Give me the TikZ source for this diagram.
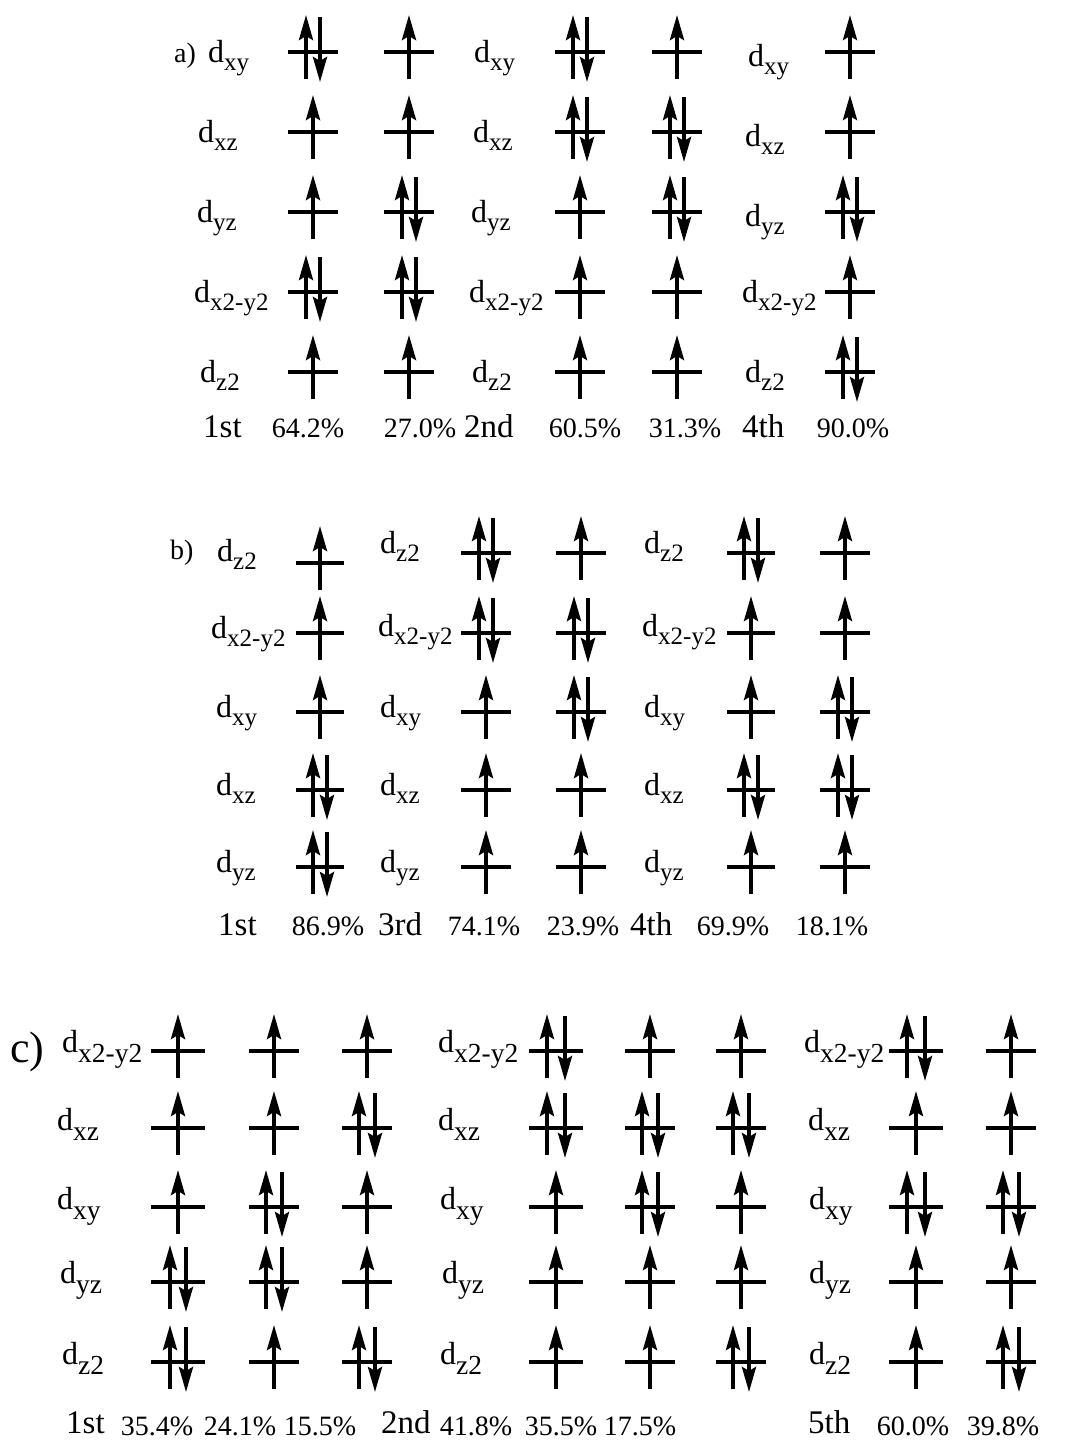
\documentclass[tikz,border=0pt]{standalone}
\usepackage{fontspec}
\setmainfont{Liberation Serif}
\usetikzlibrary{arrows.meta}
\tikzset{
 lvl/.style={line width=4pt},
 spin/.style={line width=3.8pt,-{Stealth[length=25pt,width=14pt,inset=4pt]}},
 lab/.style={anchor=base west, inner sep=0pt, font=\fontsize{32}{32}\selectfont},
 ord/.style={anchor=base west, inner sep=0pt, font=\fontsize{33}{33}\selectfont},
 pct/.style={anchor=base, inner sep=0pt, font=\fontsize{28}{28}\selectfont},
}
\newcommand{\OrbU}[4]{\draw[lvl] (#1-#3,#2) -- (#1+#3,#2); \draw[spin] (#1,#2+27) -- (#1,#2-37);}
\newcommand{\OrbP}[4]{\draw[lvl] (#1-#3,#2) -- (#1+#3,#2); \draw[spin] (#1-#4,#2+27) -- (#1-#4,#2-37); \draw[spin] (#1+#4,#2-35) -- (#1+#4,#2+30);}
\newcommand{\OrbCol}[4]{\foreach \yy/\kind in {#4}{\csname Orb\kind\endcsname{#1}{\yy}{#2}{#3}}}
\newcommand{\DA}[1]{d\raisebox{-8pt}{\fontsize{25}{25}\selectfont #1}}
\newcommand{\DC}[1]{d\raisebox{-10pt}{\fontsize{27.5}{27.5}\selectfont #1}}
\begin{document}
\begin{tikzpicture}[x=1pt,y=-1pt]
\useasboundingbox[fill=white] (0,0) rectangle (1075,1443);
% ---------------- panel a ----------------
\OrbCol{313}{25}{7}{52/P,132/U,212/U,292/P,372/U}
\OrbCol{409}{25}{7}{52/U,132/U,212/P,292/P,372/U}
\OrbCol{580}{25}{7}{52/P,132/P,212/U,292/U,372/U}
\OrbCol{677}{25}{7}{52/U,132/P,212/P,292/U,372/U}
\OrbCol{850}{25}{7}{52/U,132/U,212/P,292/U,372/P}
\node[lab,font=\fontsize{28}{28}\selectfont] (la) at (174,62) {a)};
\node[lab] (a1) at (208,62) {\DA{xy}};
\node[lab] (a2) at (198,142) {\DA{xz}};
\node[lab] (a3) at (197,222) {\DA{yz}};
\node[lab] (a4) at (194,302) {\DA{x2-y2}};
\node[lab] (a5) at (200,382) {\DA{z2}};
\node[lab] (a6) at (474,62) {\DA{xy}};
\node[lab] (a7) at (473,142) {\DA{xz}};
\node[lab] (a8) at (471,222) {\DA{yz}};
\node[lab] (a9) at (469,302) {\DA{x2-y2}};
\node[lab] (a10) at (472,382) {\DA{z2}};
\node[lab] (a11) at (748,66) {\DA{xy}};
\node[lab] (a12) at (745,146) {\DA{xz}};
\node[lab] (a13) at (745,226) {\DA{yz}};
\node[lab] (a14) at (742,302) {\DA{x2-y2}};
\node[lab] (a15) at (745,382) {\DA{z2}};
\node[ord] (ao1) at (203,437) {1st};
\node[pct] (ap1) at (308,437) {64.2\%};
\node[pct] (ap2) at (420,437) {27.0\%};
\node[ord] (ao2) at (464,437) {2nd};
\node[pct] (ap3) at (585,437) {60.5\%};
\node[pct] (ap4) at (685,437) {31.3\%};
\node[ord] (ao3) at (742,437) {4th};
\node[pct] (ap5) at (853,437) {90.0\%};
% ---------------- panel b ----------------
\OrbCol{320}{24}{7}{563/U,633/U,712/U,790/P,867/P}
\OrbCol{486}{25}{7}{553/P,633/P,712/U,790/U,867/U}
\OrbCol{581}{25}{7}{553/U,633/P,712/P,790/U,867/U}
\OrbCol{751}{24}{7}{553/P,633/U,712/U,790/P,867/U}
\OrbCol{845}{25}{7}{553/U,633/U,712/P,790/P,867/U}
\node[lab,font=\fontsize{28}{28}\selectfont] (lb) at (170,559) {b)};
\node[lab] (b1) at (217,561) {\DA{z2}};
\node[lab] (b2) at (211,638) {\DA{x2-y2}};
\node[lab] (b3) at (216,717) {\DA{xy}};
\node[lab] (b4) at (216,795) {\DA{xz}};
\node[lab] (b5) at (216,872) {\DA{yz}};
\node[lab] (b6) at (380,553) {\DA{z2}};
\node[lab] (b7) at (378,636) {\DA{x2-y2}};
\node[lab] (b8) at (380,717) {\DA{xy}};
\node[lab] (b9) at (380,795) {\DA{xz}};
\node[lab] (b10) at (380,872) {\DA{yz}};
\node[lab] (b11) at (644,553) {\DA{z2}};
\node[lab] (b12) at (642,636) {\DA{x2-y2}};
\node[lab] (b13) at (644,717) {\DA{xy}};
\node[lab] (b14) at (644,795) {\DA{xz}};
\node[lab] (b15) at (644,872) {\DA{yz}};
\node[ord] (bo1) at (218,935) {1st};
\node[pct] (bp1) at (328,935) {86.9\%};
\node[ord] (bo2) at (378,935) {3rd};
\node[pct] (bp2) at (484,935) {74.1\%};
\node[pct] (bp3) at (583,935) {23.9\%};
\node[ord] (bo3) at (630,935) {4th};
\node[pct] (bp4) at (733,935) {69.9\%};
\node[pct] (bp5) at (832,935) {18.1\%};
% ---------------- panel c ----------------
\OrbCol{178}{27}{8}{1051/U,1128/U,1207/U,1282/P,1362/P}
\OrbCol{274}{25}{8}{1051/U,1128/U,1207/P,1282/P,1362/U}
\OrbCol{367}{25}{8}{1051/U,1128/P,1207/U,1282/U,1362/P}
\OrbCol{556}{27}{9}{1051/P,1128/P,1207/U,1282/U,1362/U}
\OrbCol{650}{25}{8}{1051/U,1128/P,1207/P,1282/U,1362/U}
\OrbCol{741}{25}{8}{1051/U,1128/P,1207/U,1282/U,1362/P}
\OrbCol{916}{27}{9}{1051/P,1128/U,1207/P,1282/U,1362/U}
\OrbCol{1011}{25}{8}{1051/U,1128/U,1207/P,1282/U,1362/P}
\node[lab,font=\fontsize{44}{44}\selectfont] (lc) at (10,1062) {c)};
\node[lab] (c1) at (62,1052) {\DC{x2-y2}};
\node[lab] (c2) at (57,1130) {\DC{xz}};
\node[lab] (c3) at (57,1209) {\DC{xy}};
\node[lab] (c4) at (60,1283) {\DC{yz}};
\node[lab] (c5) at (62,1364) {\DC{z2}};
\node[lab] (c6) at (438,1052) {\DC{x2-y2}};
\node[lab] (c7) at (438,1130) {\DC{xz}};
\node[lab] (c8) at (440,1209) {\DC{xy}};
\node[lab] (c9) at (442,1283) {\DC{yz}};
\node[lab] (c10) at (440,1364) {\DC{z2}};
\node[lab] (c11) at (804,1052) {\DC{x2-y2}};
\node[lab] (c12) at (808,1130) {\DC{xz}};
\node[lab] (c13) at (809,1209) {\DC{xy}};
\node[lab] (c14) at (809,1283) {\DC{yz}};
\node[lab] (c15) at (809,1364) {\DC{z2}};
\node[ord] (co1) at (66,1433) {1st};
\node[pct] (cp1) at (157,1435) {35.4\%};
\node[pct] (cp2) at (240,1435) {24.1\%};
\node[pct] (cp3) at (320,1435) {15.5\%};
\node[ord] (co2) at (381,1433) {2nd};
\node[pct] (cp4) at (476,1435) {41.8\%};
\node[pct] (cp5) at (561,1435) {35.5\%};
\node[pct] (cp6) at (640,1435) {17.5\%};
\node[ord] (co3) at (808,1433) {5th};
\node[pct] (cp7) at (913,1435) {60.0\%};
\node[pct] (cp8) at (1003,1435) {39.8\%};
\end{tikzpicture}
\end{document}
